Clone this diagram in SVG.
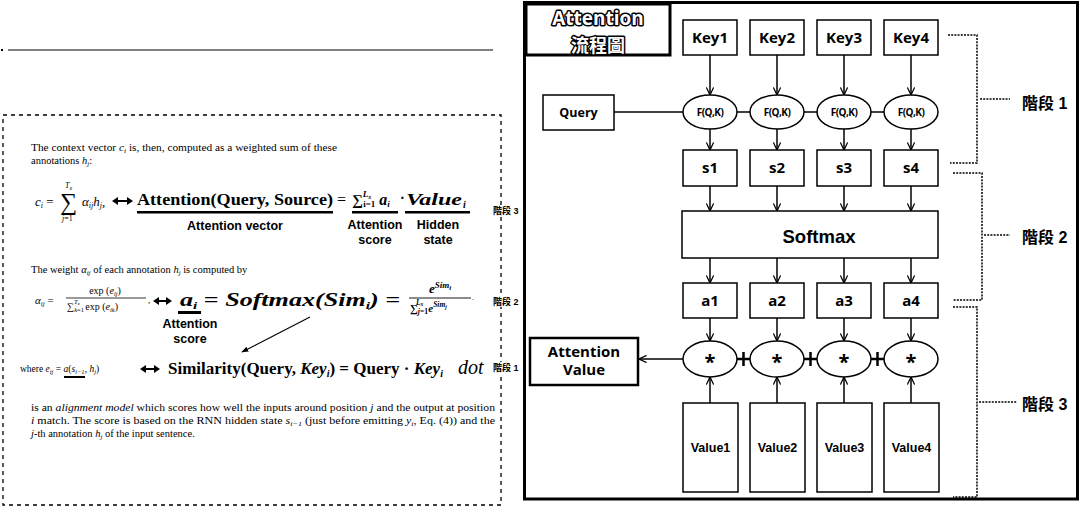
<svg xmlns="http://www.w3.org/2000/svg" width="1080" height="509" viewBox="0 0 1080 509">
<style>
.tm{font-family:"Liberation Serif","Times New Roman",serif;fill:#000}
.it{font-style:italic}
.bs{font-family:"Liberation Serif",serif;font-weight:bold;fill:#000}
.lbl{font-family:"Liberation Sans",Arial,sans-serif;font-weight:bold;fill:#000;text-anchor:middle}
.nd{font-family:"Open Sans","Liberation Sans",sans-serif;font-weight:bold;fill:#000;text-anchor:middle}
.cjk{font-family:"Liberation Sans","Noto Sans CJK TC",sans-serif;font-weight:bold;fill:#000}
.box{fill:#fff;stroke:#000;stroke-width:1.5}
.ln{fill:none;stroke:#000;stroke-width:1.5}
.ar{fill:none;stroke:#000;stroke-width:1.5;marker-end:url(#ah)}
.dot{fill:none;stroke:#000;stroke-width:1.5;stroke-dasharray:2 1.2}
.ul{fill:#000}
</style>
<defs>
<marker id="ah" viewBox="0 0 10 10" refX="9.5" refY="5" markerWidth="8" markerHeight="8" markerUnits="userSpaceOnUse" orient="auto">
<path d="M0,0.5 L9.5,5 L0,9.5" fill="none" stroke="#000" stroke-width="1.6"/>
</marker>
<marker id="fh" viewBox="0 0 10 10" refX="9" refY="5" markerWidth="7" markerHeight="7" markerUnits="userSpaceOnUse" orient="auto">
<path d="M0,1 L10,5 L0,9 z" fill="#000"/>
</marker>
</defs>
<rect width="1080" height="509" fill="#fff"/>

<!-- Left panel -->
<g id="left-panel">
<line x1="8" y1="50" x2="493" y2="50" stroke="#000" stroke-width="1.2"/>
<rect x="1" y="49" width="2" height="2" fill="#000"/>
<rect x="3" y="115" width="498" height="390" fill="none" stroke="#000" stroke-width="1.3" stroke-dasharray="4 4"/>

<text class="tm" x="31" y="151" font-size="10.5" textLength="306" lengthAdjust="spacingAndGlyphs">The context vector <tspan class="it">c</tspan><tspan class="it" font-size="7" dy="2">i</tspan><tspan dy="-2"> is, then, computed as a weighted sum of these</tspan></text>
<text class="tm" x="31" y="164" font-size="10.5">annotations <tspan class="it">h</tspan><tspan class="it" font-size="7" dy="2">j</tspan><tspan dy="-2">:</tspan></text>

<!-- row 1 -->
<text class="tm" x="35" y="206" font-size="13"><tspan class="it">c</tspan><tspan class="it" font-size="8" dy="2">i</tspan><tspan dy="-2"> =</tspan></text>
<text class="tm" x="60" y="210" font-size="24">∑</text>
<text class="tm it" x="65" y="188" font-size="8">T<tspan font-size="6" dy="2">x</tspan></text>
<text class="tm it" x="62" y="221" font-size="8">j<tspan font-style="normal">=1</tspan></text>
<text class="tm it" x="82" y="206" font-size="13">α<tspan font-size="8" dy="2">ij</tspan><tspan dy="-2">h</tspan><tspan font-size="8" dy="2">j</tspan><tspan dy="-2">,</tspan></text>
<polygon points="112,201 118,197 118,200 127,200 127,197 133,201 127,205 127,202 118,202 118,205" fill="#000"/>
<text class="bs" x="137" y="205" font-size="17" textLength="196" lengthAdjust="spacingAndGlyphs">Attention(Query, Source)</text>
<text class="tm" x="337" y="205" font-size="16">=</text>
<text class="bs" x="352" y="205" font-size="15">∑<tspan font-size="9" dy="-8" class="it">L</tspan><tspan font-size="6" dy="2" class="it">x</tspan><tspan font-size="9" dy="8" dx="-8">i=1</tspan><tspan dy="-2" class="it" font-size="16"> a</tspan><tspan font-size="9" dy="2" class="it">i</tspan></text>
<text class="bs" x="400" y="203" font-size="14">·</text>
<text class="bs it" x="406" y="205" font-size="17" textLength="56" lengthAdjust="spacingAndGlyphs">Value</text>
<text class="bs it" x="463" y="208" font-size="10">i</text>
<rect class="ul" x="137" y="211" width="196" height="2.5"/>
<rect class="ul" x="352" y="211" width="46" height="2.5"/>
<rect class="ul" x="405" y="211" width="65" height="2.5"/>
<text class="lbl" x="235" y="230" font-size="12.5">Attention vector</text>
<text class="lbl" x="375" y="229" font-size="12.5">Attention</text>
<text class="lbl" x="375" y="244" font-size="12.5">score</text>
<text class="lbl" x="438" y="229" font-size="12.5">Hidden</text>
<text class="lbl" x="438" y="244" font-size="12.5">state</text>

<text class="tm" x="31" y="273" font-size="10.5">The weight <tspan class="it">α</tspan><tspan class="it" font-size="7" dy="2">ij</tspan><tspan dy="-2"> of each annotation </tspan><tspan class="it">h</tspan><tspan class="it" font-size="7" dy="2">j</tspan><tspan dy="-2"> is computed by</tspan></text>

<!-- row 2 -->
<text class="tm it" x="35" y="304" font-size="11">α<tspan font-size="7" dy="2">ij</tspan><tspan dy="-2" font-style="normal"> =</tspan></text>
<text class="tm" x="105" y="294" font-size="10" text-anchor="middle">exp (<tspan class="it">e</tspan><tspan class="it" font-size="6.5" dy="2">ij</tspan><tspan dy="-2">)</tspan></text>
<line x1="66" y1="298" x2="146" y2="298" stroke="#000" stroke-width="0.8"/>
<text class="tm" x="67" y="310" font-size="10">∑<tspan font-size="6.5" dy="2" class="it">k</tspan><tspan font-size="6.5">=1</tspan><tspan font-size="6.5" dy="-8" dx="-10" class="it">T</tspan><tspan font-size="5" class="it" dy="1">x</tspan><tspan dy="5" dx="3"> exp (</tspan><tspan class="it">e</tspan><tspan class="it" font-size="6.5" dy="2">ik</tspan><tspan dy="-2">)</tspan></text>
<text class="tm" x="148" y="303" font-size="9">,</text>
<polygon points="153,301 159,297 159,300 166,300 166,297 172,301 166,305 166,302 159,302 159,305" fill="#000"/>
<text class="bs it" x="180" y="306" font-size="19" textLength="220" lengthAdjust="spacingAndGlyphs">a<tspan font-size="11" dy="3">i</tspan><tspan dy="-3" font-style="normal"> = </tspan>Softmax(Sim<tspan font-size="11" dy="3">i</tspan><tspan dy="-3">) =</tspan></text>
<text class="bs it" x="440" y="293" font-size="13" text-anchor="middle">e<tspan font-size="9" dy="-5">Sim</tspan><tspan font-size="7" dy="2">i</tspan></text>
<line x1="409" y1="298" x2="471" y2="298" stroke="#000" stroke-width="0.9"/>
<text class="bs" x="410" y="312" font-size="11">∑<tspan font-size="7.5" dy="2" class="it">j</tspan><tspan font-size="7.5">=1</tspan><tspan font-size="7.5" dy="-9" dx="-12" class="it">L</tspan><tspan font-size="5.5" class="it" dy="1">x</tspan><tspan dy="6" dx="5" class="it" font-size="11">e</tspan><tspan font-size="7.5" dy="-5" class="it">Sim</tspan><tspan font-size="5.5" dy="2" class="it">j</tspan></text>
<text class="tm" x="472" y="300" font-size="8">.</text>
<rect class="ul" x="178" y="311" width="23" height="3"/>
<text class="lbl" x="190" y="328" font-size="12.5">Attention</text>
<text class="lbl" x="190" y="343" font-size="12.5">score</text>
<line x1="310" y1="317" x2="242" y2="352" stroke="#000" stroke-width="1.1" marker-end="url(#fh)"/>

<!-- row 3 -->
<text class="tm" x="20" y="372" font-size="9.5">where <tspan class="it">e</tspan><tspan class="it" font-size="6.5" dy="2">ij</tspan><tspan dy="-2"> = </tspan><tspan class="it">a</tspan><tspan>(</tspan><tspan class="it">s</tspan><tspan class="it" font-size="6.5" dy="2">i−1</tspan><tspan dy="-2">, </tspan><tspan class="it">h</tspan><tspan class="it" font-size="6.5" dy="2">j</tspan><tspan dy="-2">)</tspan></text>
<rect class="ul" x="64" y="376" width="21" height="2"/>
<polygon points="140,369 146,365 146,368 154,368 154,365 160,369 154,373 154,370 146,370 146,373" fill="#000"/>
<text class="bs" x="168" y="374" font-size="17">Similarity(Query, <tspan class="it">Key</tspan><tspan class="it" font-size="10" dy="3">i</tspan><tspan dy="-3">) = Query · </tspan><tspan class="it">Key</tspan><tspan class="it" font-size="10" dy="3">i</tspan></text>
<text class="tm it" x="458" y="374" font-size="20">dot</text>

<text class="tm" x="31" y="411" font-size="10.5" textLength="464" lengthAdjust="spacingAndGlyphs">is an <tspan class="it">alignment model</tspan> which scores how well the inputs around position <tspan class="it">j</tspan> and the output at position</text>
<text class="tm" x="31" y="424" font-size="10.5" textLength="464" lengthAdjust="spacingAndGlyphs"><tspan class="it">i</tspan> match. The score is based on the RNN hidden state <tspan class="it">s</tspan><tspan class="it" font-size="7" dy="2">i−1</tspan><tspan dy="-2"> (just before emitting </tspan><tspan class="it">y</tspan><tspan class="it" font-size="7" dy="2">i</tspan><tspan dy="-2">, Eq. (4)) and the</tspan></text>
<text class="tm" x="31" y="437" font-size="10.5"><tspan class="it">j</tspan>-th annotation <tspan class="it">h</tspan><tspan class="it" font-size="7" dy="2">j</tspan><tspan dy="-2"> of the input sentence.</tspan></text>

<rect x="492" y="205" width="22" height="11" fill="#fff"/>
<text class="cjk" x="493" y="214" font-size="9">階段 3</text>
<rect x="492" y="296" width="22" height="11" fill="#fff"/>
<text class="cjk" x="493" y="305" font-size="9">階段 2</text>
<rect x="492" y="362" width="22" height="11" fill="#fff"/>
<text class="cjk" x="493" y="371" font-size="9">階段 1</text>
</g>

<!-- Right panel frame -->
<g id="frame">
<rect x="524.5" y="2.5" width="553" height="496.5" fill="none" stroke="#000" stroke-width="3"/>
</g>
<g id="title">
<rect x="526" y="4" width="144" height="51" fill="#fff" stroke="#000" stroke-width="3"/>
<text x="598" y="25" font-family="'Open Sans','Liberation Sans',sans-serif" font-weight="bold" font-size="19" text-anchor="middle" fill="#fff" stroke="#000" stroke-width="3" paint-order="stroke" stroke-linejoin="round">Attention</text>
<text x="598" y="52" font-family="'Noto Sans CJK TC',sans-serif" font-weight="bold" font-size="18" text-anchor="middle" fill="#fff" stroke="#000" stroke-width="3" paint-order="stroke" stroke-linejoin="round">流程圖</text>
</g>

<!-- connectors -->
<g id="connectors">
<line class="ar" x1="710" y1="55" x2="710" y2="95"/>
<line class="ar" x1="777" y1="55" x2="777" y2="95"/>
<line class="ar" x1="844" y1="55" x2="844" y2="95"/>
<line class="ar" x1="911" y1="55" x2="911" y2="95"/>
<line class="ln" x1="614" y1="112" x2="683" y2="112"/>
<line class="ln" x1="737" y1="112" x2="750" y2="112"/>
<line class="ln" x1="804" y1="112" x2="817" y2="112"/>
<line class="ln" x1="871" y1="112" x2="884" y2="112"/>
<line class="ar" x1="710" y1="129" x2="710" y2="150"/>
<line class="ar" x1="777" y1="129" x2="777" y2="150"/>
<line class="ar" x1="844" y1="129" x2="844" y2="150"/>
<line class="ar" x1="911" y1="129" x2="911" y2="150"/>
<line class="ar" x1="710" y1="186" x2="710" y2="211"/>
<line class="ar" x1="777" y1="186" x2="777" y2="211"/>
<line class="ar" x1="844" y1="186" x2="844" y2="211"/>
<line class="ar" x1="911" y1="186" x2="911" y2="211"/>
<line class="ar" x1="710" y1="258" x2="710" y2="283"/>
<line class="ar" x1="777" y1="258" x2="777" y2="283"/>
<line class="ar" x1="844" y1="258" x2="844" y2="283"/>
<line class="ar" x1="911" y1="258" x2="911" y2="283"/>
<line class="ar" x1="710" y1="318" x2="710" y2="341"/>
<line class="ar" x1="777" y1="318" x2="777" y2="341"/>
<line class="ar" x1="844" y1="318" x2="844" y2="341"/>
<line class="ar" x1="911" y1="318" x2="911" y2="341"/>
<line class="ar" x1="683" y1="359" x2="639" y2="359"/>
<line x1="743.5" y1="352" x2="743.5" y2="366" stroke="#000" stroke-width="2.5"/>
<line x1="810.5" y1="352" x2="810.5" y2="366" stroke="#000" stroke-width="2.5"/>
<line x1="877.5" y1="352" x2="877.5" y2="366" stroke="#000" stroke-width="2.5"/>
<line x1="737" y1="359" x2="750" y2="359" stroke="#000" stroke-width="2.5"/>
<line x1="804" y1="359" x2="817" y2="359" stroke="#000" stroke-width="2.5"/>
<line x1="871" y1="359" x2="884" y2="359" stroke="#000" stroke-width="2.5"/>
<line class="ar" x1="710" y1="403" x2="710" y2="377"/>
<line class="ar" x1="777" y1="403" x2="777" y2="377"/>
<line class="ar" x1="844" y1="403" x2="844" y2="377"/>
<line class="ar" x1="911" y1="403" x2="911" y2="377"/>
<!-- stage brackets -->
<polyline class="dot" points="948,35 977,35 977,163 950,163"/>
<line class="dot" x1="980" y1="99" x2="1010" y2="99"/>
<polyline class="dot" points="953,173 982,173 982,300 953,300"/>
<line class="dot" x1="984" y1="235" x2="1010" y2="235"/>
<polyline class="dot" points="953,307 977,307 977,497 953,497"/>
<line class="dot" x1="979" y1="402" x2="1017" y2="402"/>
</g>

<g id="key1"><rect class="box" x="683" y="20" width="54" height="35"/><text class="nd" x="710" y="43" font-size="15">Key1</text></g>
<g id="key2"><rect class="box" x="750" y="20" width="54" height="35"/><text class="nd" x="777" y="43" font-size="15">Key2</text></g>
<g id="key3"><rect class="box" x="817" y="20" width="54" height="35"/><text class="nd" x="844" y="43" font-size="15">Key3</text></g>
<g id="key4"><rect class="box" x="884" y="20" width="54" height="35"/><text class="nd" x="911" y="43" font-size="15">Key4</text></g>

<g id="query"><rect class="box" x="543" y="95" width="71" height="35"/><text class="nd" x="578.5" y="117" font-size="12.5">Query</text></g>

<g id="f1"><ellipse class="box" cx="710" cy="112" rx="27" ry="17"/><text class="nd" x="710" y="116" font-size="10" letter-spacing="-0.5">F(Q,K)</text></g>
<g id="f2"><ellipse class="box" cx="777" cy="112" rx="27" ry="17"/><text class="nd" x="777" y="116" font-size="10" letter-spacing="-0.5">F(Q,K)</text></g>
<g id="f3"><ellipse class="box" cx="844" cy="112" rx="27" ry="17"/><text class="nd" x="844" y="116" font-size="10" letter-spacing="-0.5">F(Q,K)</text></g>
<g id="f4"><ellipse class="box" cx="911" cy="112" rx="27" ry="17"/><text class="nd" x="911" y="116" font-size="10" letter-spacing="-0.5">F(Q,K)</text></g>

<g id="s1"><rect class="box" x="683" y="150" width="54" height="36"/><text class="nd" x="710" y="173" font-size="15">s1</text></g>
<g id="s2"><rect class="box" x="750" y="150" width="54" height="36"/><text class="nd" x="777" y="173" font-size="15">s2</text></g>
<g id="s3"><rect class="box" x="817" y="150" width="54" height="36"/><text class="nd" x="844" y="173" font-size="15">s3</text></g>
<g id="s4"><rect class="box" x="884" y="150" width="54" height="36"/><text class="nd" x="911" y="173" font-size="15">s4</text></g>

<g id="softmax"><rect class="box" x="682" y="211" width="256" height="47"/><text class="lbl" x="819" y="243" font-size="18.5">Softmax</text></g>

<g id="a1"><rect class="box" x="683" y="283" width="54" height="35"/><text class="nd" x="710" y="306" font-size="15">a1</text></g>
<g id="a2"><rect class="box" x="750" y="283" width="54" height="35"/><text class="nd" x="777" y="306" font-size="15">a2</text></g>
<g id="a3"><rect class="box" x="817" y="283" width="54" height="35"/><text class="nd" x="844" y="306" font-size="15">a3</text></g>
<g id="a4"><rect class="box" x="884" y="283" width="54" height="35"/><text class="nd" x="911" y="306" font-size="15">a4</text></g>

<g id="m1"><ellipse class="box" cx="710" cy="359" rx="27" ry="18"/><text class="nd" x="710" y="369" font-size="20">*</text></g>
<g id="m2"><ellipse class="box" cx="777" cy="359" rx="27" ry="18"/><text class="nd" x="777" y="369" font-size="20">*</text></g>
<g id="m3"><ellipse class="box" cx="844" cy="359" rx="27" ry="18"/><text class="nd" x="844" y="369" font-size="20">*</text></g>
<g id="m4"><ellipse class="box" cx="911" cy="359" rx="27" ry="18"/><text class="nd" x="911" y="369" font-size="20">*</text></g>

<g id="attention-value"><rect x="530" y="338" width="108" height="47" fill="#fff" stroke="#000" stroke-width="2.5"/><text class="nd" x="584" y="357" font-size="15">Attention</text><text class="nd" x="584" y="375" font-size="15">Value</text></g>

<g id="v1"><rect class="box" x="683" y="403" width="55" height="89"/><text class="lbl" x="710.5" y="452" font-size="12.5">Value1</text></g>
<g id="v2"><rect class="box" x="750" y="403" width="55" height="89"/><text class="lbl" x="777.5" y="452" font-size="12.5">Value2</text></g>
<g id="v3"><rect class="box" x="817" y="403" width="55" height="89"/><text class="lbl" x="844.5" y="452" font-size="12.5">Value3</text></g>
<g id="v4"><rect class="box" x="884" y="403" width="55" height="89"/><text class="lbl" x="911.5" y="452" font-size="12.5">Value4</text></g>

<g id="stage1"><text class="cjk" x="1022" y="109" font-size="16">階段 1</text></g>
<g id="stage2"><text class="cjk" x="1022" y="243" font-size="16">階段 2</text></g>
<g id="stage3"><text class="cjk" x="1022" y="410" font-size="16">階段 3</text></g>
</svg>
